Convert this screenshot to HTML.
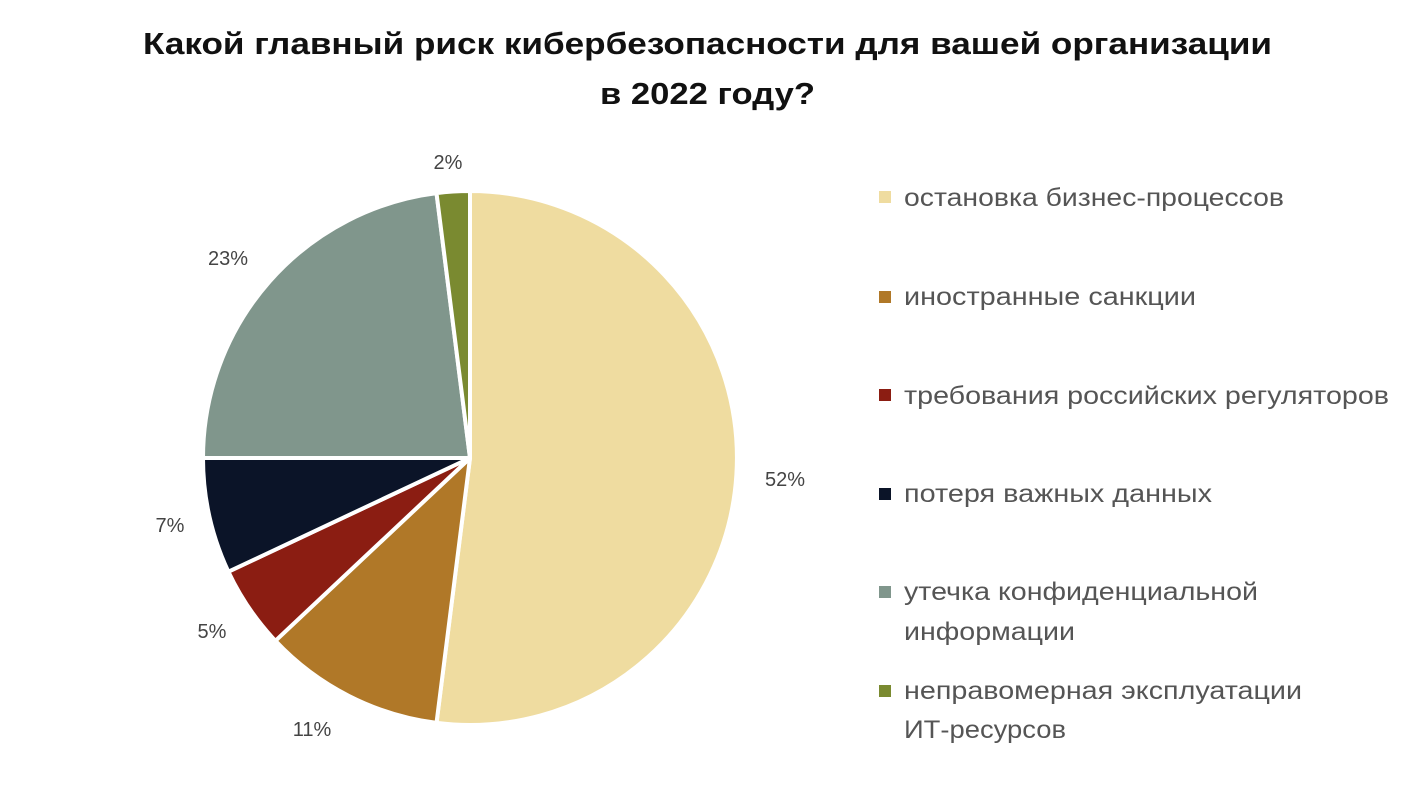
<!DOCTYPE html>
<html><head><meta charset="utf-8"><style>
body{margin:0;background:#fff;width:1420px;height:800px;overflow:hidden;font-family:"Liberation Sans","DejaVu Sans",sans-serif;}
</style></head><body>
<svg width="1420" height="800" xmlns="http://www.w3.org/2000/svg">
<text x="143" y="54" font-size="31" font-weight="bold" fill="#111" textLength="1129" lengthAdjust="spacingAndGlyphs">Какой главный риск кибербезопасности для вашей организации</text>
<text x="600" y="104" font-size="31" font-weight="bold" fill="#111" textLength="215" lengthAdjust="spacingAndGlyphs">в 2022 году?</text>
<g stroke="#fff" stroke-width="4" stroke-linejoin="round">
<path d="M470,458 L470,191 A267,267 0 1 1 436.5,722.9 Z" fill="#efdca0"/>
<path d="M470,458 L436.5,722.9 A267,267 0 0 1 275.4,640.8 Z" fill="#b07828"/>
<path d="M470,458 L275.4,640.8 A267,267 0 0 1 228.4,571.7 Z" fill="#8b1d12"/>
<path d="M470,458 L228.4,571.7 A267,267 0 0 1 203,458 Z" fill="#0b1428"/>
<path d="M470,458 L203,458 A267,267 0 0 1 436.5,193.1 Z" fill="#80968c"/>
<path d="M470,458 L436.5,193.1 A267,267 0 0 1 470,191 Z" fill="#7a8a30"/>
</g>
<g font-size="20" fill="#444" text-anchor="middle">
<text x="785" y="486">52%</text>
<text x="312" y="736">11%</text>
<text x="212" y="638">5%</text>
<text x="170" y="532">7%</text>
<text x="228" y="265">23%</text>
<text x="448" y="169">2%</text>
</g>
<g font-size="25" fill="#555">
<rect x="879" y="191" width="12" height="12" fill="#efdca0"/><text x="904" y="206" textLength="380" lengthAdjust="spacingAndGlyphs">остановка бизнес-процессов</text>
<rect x="879" y="291" width="12" height="12" fill="#b07828"/><text x="904" y="305" textLength="292" lengthAdjust="spacingAndGlyphs">иностранные санкции</text>
<rect x="879" y="389" width="12" height="12" fill="#8b1d12"/><text x="904" y="404" textLength="485" lengthAdjust="spacingAndGlyphs">требования российских регуляторов</text>
<rect x="879" y="488" width="12" height="12" fill="#0b1428"/><text x="904" y="502" textLength="308" lengthAdjust="spacingAndGlyphs">потеря важных данных</text>
<rect x="879" y="586" width="12" height="12" fill="#80968c"/><text x="904" y="600" textLength="354" lengthAdjust="spacingAndGlyphs">утечка конфиденциальной</text><text x="904" y="640" textLength="171" lengthAdjust="spacingAndGlyphs">информации</text>
<rect x="879" y="685" width="12" height="12" fill="#7a8a30"/><text x="904" y="699" textLength="398" lengthAdjust="spacingAndGlyphs">неправомерная эксплуатации</text><text x="904" y="738" textLength="162" lengthAdjust="spacingAndGlyphs">ИТ-ресурсов</text>
</g>
</svg>
</body></html>
